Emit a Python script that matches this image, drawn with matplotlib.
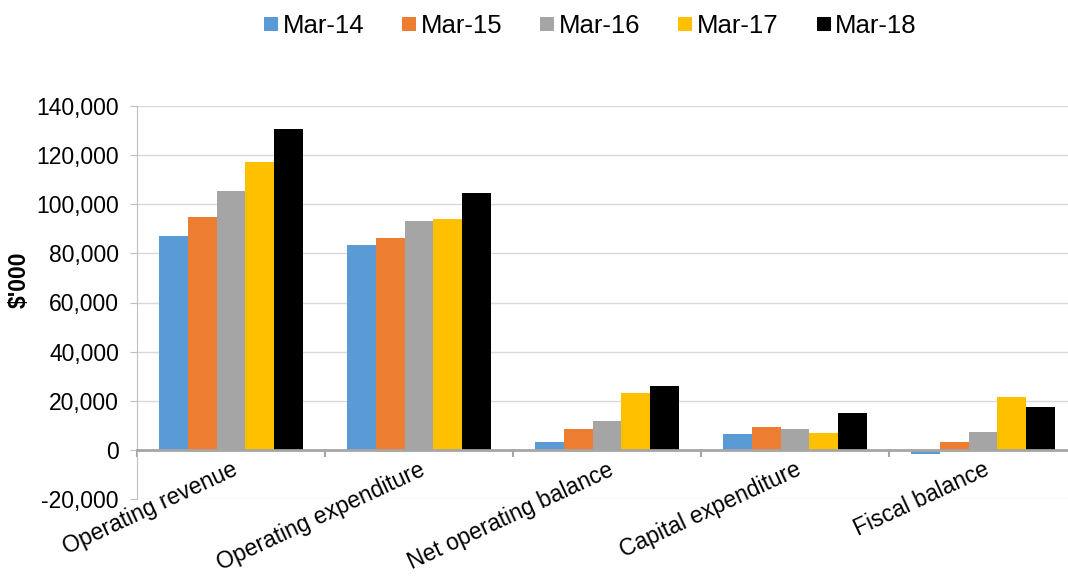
import matplotlib
matplotlib.use("Agg")
import matplotlib.pyplot as plt
import numpy as np
from matplotlib.ticker import FuncFormatter, FixedLocator
from matplotlib.lines import Line2D

plt.rcParams['font.family'] = ['Liberation Sans', 'DejaVu Sans']

categories = ["Operating revenue", "Operating expenditure", "Net operating balance",
              "Capital expenditure", "Fiscal balance"]
years = ["Mar-14", "Mar-15", "Mar-16", "Mar-17", "Mar-18"]

# $'000 per year, one list per year in category order
mar14 = [87000, 83500, 3300, 6400, -1500]
mar15 = [95000, 86400, 8300, 9400, 3400]
mar16 = [105200, 93200, 11700, 8300, 7200]
mar17 = [117300, 94000, 23100, 6800, 21500]
mar18 = [130700, 104400, 26100, 15100, 17500]
series = [mar14, mar15, mar16, mar17, mar18]
colors = ["#5B9BD5", "#ED7D31", "#A5A5A5", "#FFC000", "#000000"]

fig = plt.figure(figsize=(10.68, 5.78), dpi=100)
ax = fig.add_axes([137/1068, 79/578, 940/1068, 393/578])

x = np.arange(len(categories))
w = 0.154
for i, (vals, c) in enumerate(zip(series, colors)):
    ax.bar(x + (i - 2) * w, vals, width=w, color=c, linewidth=0, zorder=3)

ax.set_xlim(-0.5, 4.5)
ax.set_ylim(-20000, 140000)
ax.set_yticks(np.arange(-20000, 140001, 20000))
ax.yaxis.set_major_formatter(FuncFormatter(lambda v, p: f"{v:,.0f}"))
ax.grid(axis='y', color='#d9d9d9', linewidth=1, zorder=0)

for s in ['top', 'right']:
    ax.spines[s].set_visible(False)
ax.spines['left'].set_color('#bfbfbf')
ax.spines['bottom'].set_position(('data', 0))
ax.spines['bottom'].set_color('#a6a6a6')
ax.spines['bottom'].set_linewidth(2)
ax.spines['bottom'].set_zorder(4)

ax.tick_params(axis='y', length=5, color='#bfbfbf', labelsize=16.5, pad=8)
ax.set_xticks(x)
ax.xaxis.set_minor_locator(FixedLocator(np.arange(-0.5, 4.6, 1)))
ax.tick_params(axis='x', which='major', length=0, pad=6)
ax.tick_params(axis='x', which='minor', length=5, width=1.5, color='#a6a6a6')
ax.set_xticklabels(categories, rotation=25, ha='right', va='top',
                   rotation_mode='anchor', fontsize=16.5)

# y-axis title placed in figure coords, a bit above the axes centre
fig.text(19/1068, 1 - 280/578, "$'000", rotation=90, ha='center', va='center',
         fontsize=16.5, fontweight='bold')

handles = [Line2D([], [], marker='s', linestyle='none', markersize=10,
                  markerfacecolor=c, markeredgewidth=0) for c in colors]
fig.legend(handles, years, loc='center', bbox_to_anchor=(590/1068, 1 - 26/578),
           ncol=5, frameon=False, fontsize=18.5, handlelength=0.6,
           handletextpad=0.15, columnspacing=1.45)

fig.savefig("out.png", dpi=100)
